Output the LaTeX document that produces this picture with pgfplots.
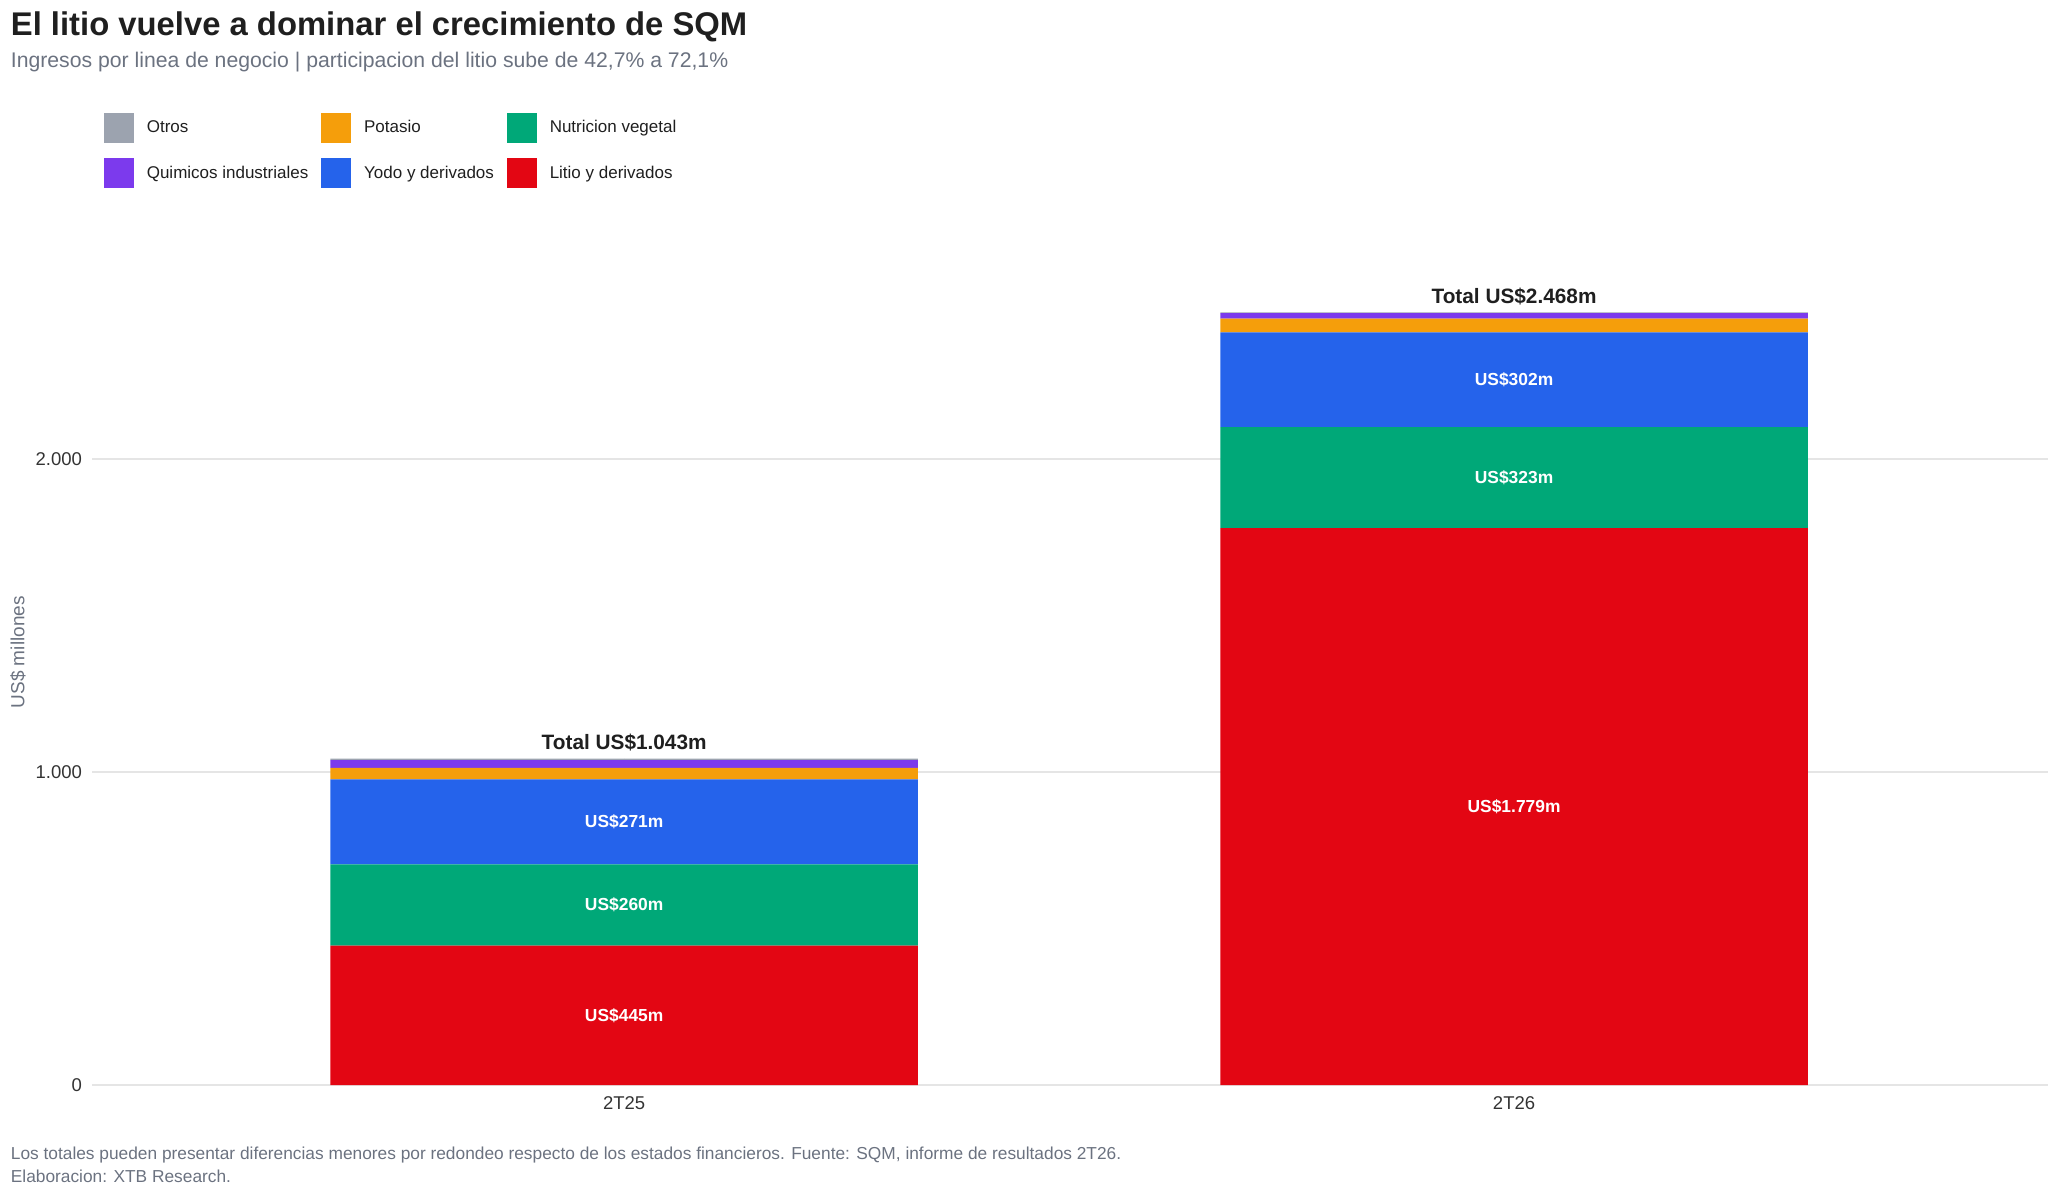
\documentclass[border=0pt]{standalone}
\usepackage{pgfplots}
\pgfplotsset{compat=1.18}
\usepackage{pgfplotstable}
\usepackage{fontspec}
\setmainfont{Liberation Sans}

\definecolor{cLitio}{HTML}{E30613}
\definecolor{cNutri}{HTML}{00A878}
\definecolor{cYodo}{HTML}{2563EB}
\definecolor{cPot}{HTML}{F59E0B}
\definecolor{cQuim}{HTML}{7C3AED}
\definecolor{cOtros}{HTML}{9CA3AF}
\definecolor{cTitle}{HTML}{1F1F1F}
\definecolor{cSub}{HTML}{6B7280}
\definecolor{cTick}{HTML}{333333}
\definecolor{cGrid}{HTML}{E5E5E5}

\pgfplotstableread{
x litio nutri yodo pot quim otros
0 445 260 271 37 25 5
1 1779 323 302 44 18 2
}\revtable

\pgfplotsset{base/.style={
  at={(46pt,52.5pt)}, anchor=south west, scale only axis,
  width=978pt, height=422.6pt,
  xmin=-0.598, xmax=1.6, ymin=0, ymax=2700,
}}

\begin{document}
\begin{tikzpicture}
\useasboundingbox (0,0) rectangle (1024pt,595pt);

\begin{axis}[base,
  ybar stacked, bar width=0.66,
  ymajorgrids, grid style={cGrid, line width=0.6pt},
  axis line style={draw=none}, major tick length=0pt,
  xtick={0,1}, xticklabels={2T25,2T26},
  ytick={0,1000,2000}, scaled y ticks=false,
  yticklabel style={/pgf/number format/1000 sep={.}, xshift=-1.5pt},
  xticklabel style={yshift=-2.5pt},
  /pgf/number format/assume math mode=true,
  tick label style={font=\fontsize{9.25}{10}\selectfont, color=cTick},
  ylabel={US\$ millones},
  every axis y label/.style={at={(axis description cs:-0.0378,0.512)}, anchor=center, rotate=90, font=\fontsize{9.5}{10}\selectfont, color=cSub},
]
\addplot[fill=cLitio, draw=none] table[x=x,y=litio]{\revtable};
\addplot[fill=cNutri, draw=none] table[x=x,y=nutri]{\revtable};
\addplot[fill=cYodo, draw=none] table[x=x,y=yodo]{\revtable};
\addplot[fill=cPot, draw=none] table[x=x,y=pot]{\revtable};
\addplot[fill=cQuim, draw=none] table[x=x,y=quim]{\revtable};
\addplot[fill=cOtros, draw=none] table[x=x,y=otros]{\revtable};
\end{axis}

\begin{axis}[base, hide axis, clip=false,
  legend columns=3,
  legend style={draw=none, fill=none, inner sep=0pt, outer sep=0pt,
    at={(axis description cs:0.00613,1.1505)}, anchor=north west,
    font=\fontsize{8.5}{10}\selectfont, text=cTitle,
    nodes={inner sep=0pt, anchor=west, text height=0.72em, text depth=0.2em},
    row sep=8pt,
    /tikz/every odd column/.append style={column sep=6.5pt},
    /tikz/every even column/.append style={column sep=6.5pt}},
  legend cell align=left,
]
\addlegendimage{legend image code/.code={\fill[cOtros] (0pt,-7.25pt) rectangle (14.5pt,7.25pt);}}
\addlegendentry{Otros}
\addlegendimage{legend image code/.code={\fill[cPot] (0pt,-7.25pt) rectangle (14.5pt,7.25pt);}}
\addlegendentry{Potasio}
\addlegendimage{legend image code/.code={\fill[cNutri] (0pt,-7.25pt) rectangle (14.5pt,7.25pt);}}
\addlegendentry{Nutricion vegetal}
\addlegendimage{legend image code/.code={\fill[cQuim] (0pt,-7.25pt) rectangle (14.5pt,7.25pt);}}
\addlegendentry{Quimicos industriales}
\addlegendimage{legend image code/.code={\fill[cYodo] (0pt,-7.25pt) rectangle (14.5pt,7.25pt);}}
\addlegendentry{Yodo y derivados}
\addlegendimage{legend image code/.code={\fill[cLitio] (0pt,-7.25pt) rectangle (14.5pt,7.25pt);}}
\addlegendentry{Litio y derivados}

\addplot[forget plot, only marks, mark=*, mark size=0pt, mark options={draw=none, fill=none},
  nodes near coords, point meta=explicit symbolic,
  nodes near coords style={font=\bfseries\fontsize{8.7}{10}\selectfont, text=white, anchor=center, inner sep=0pt}]
coordinates {
(0,222.5) [US\$445m]
(0,575) [US\$260m]
(0,840.5) [US\$271m]
(1,889.5) [US\$1.779m]
(1,1940.5) [US\$323m]
(1,2253) [US\$302m]
};

\addplot[forget plot, only marks, mark=*, mark size=0pt, mark options={draw=none, fill=none},
  nodes near coords, point meta=explicit symbolic,
  nodes near coords style={font=\bfseries\fontsize{10.4}{12}\selectfont, text=cTitle, anchor=base, yshift=4.5pt, inner sep=0pt}]
coordinates {
(0,1043) [Total US\$1.043m]
(1,2468) [Total US\$2.468m]
};
\end{axis}

\node[anchor=base west, inner sep=0pt, font=\bfseries\fontsize{16.4}{19}\selectfont, text=cTitle] at (5.25pt,577.3pt) {El litio vuelve a dominar el crecimiento de SQM};
\node[anchor=base west, inner sep=0pt, font=\fontsize{10.6}{12}\selectfont, text=cSub] at (5.25pt,561pt) {Ingresos por linea de negocio | participacion del litio sube de 42,7\% a 72,1\%};
\node[anchor=base west, inner sep=0pt, font=\fontsize{8.66}{10}\selectfont, text=cSub] at (5.25pt,15.5pt) {Los totales pueden presentar diferencias menores por redondeo respecto de los estados financieros. Fuente: SQM, informe de resultados 2T26.};
\node[anchor=base west, inner sep=0pt, font=\fontsize{8.66}{10}\selectfont, text=cSub] at (5.25pt,4pt) {Elaboracion: XTB Research.};
\end{tikzpicture}
\end{document}
